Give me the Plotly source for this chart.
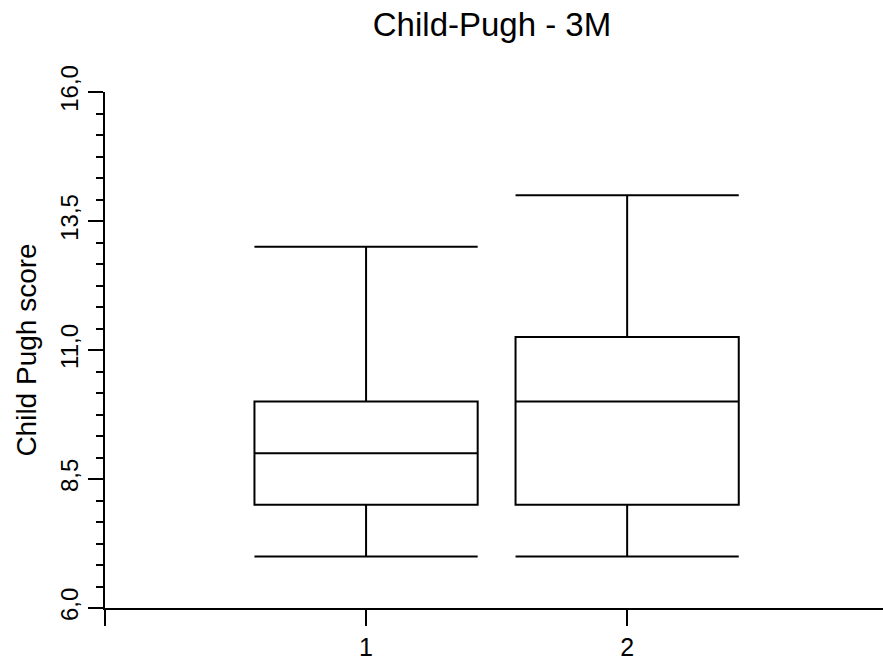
import plotly.graph_objects as go

# Five-number summaries of the Child-Pugh score per group at 3 months
groups = [1, 2]
lower_whisker = [7.0, 7.0]
q1_values = [8.0, 8.0]
medians = [9.0, 10.0]
q3_values = [10.0, 11.25]
upper_whisker = [13.0, 14.0]

y_ticks = [6.0, 8.5, 11.0, 13.5, 16.0]
x_tickvals = [0, 1, 2]
x_ticktext = ["", "1", "2"]

font_family = "Liberation Sans, Arial, sans-serif"

fig = go.Figure()
fig.add_trace(go.Box(
    x=groups,
    q1=q1_values,
    median=medians,
    q3=q3_values,
    lowerfence=lower_whisker,
    upperfence=upper_whisker,
    width=0.855,
    whiskerwidth=1,
    boxpoints=False,
    fillcolor="white",
    line=dict(color="black", width=2),
    showlegend=False,
    hoverinfo="skip",
))

fig.update_layout(
    width=883,
    height=662,
    margin=dict(l=105, r=0, t=92, b=54),
    paper_bgcolor="white",
    plot_bgcolor="white",
    separators=",.",
    font=dict(family=font_family, color="black"),
    title=dict(
        text="Child-Pugh - 3M",
        x=492 / 883,
        xref="container",
        xanchor="center",
        y=1 - 24 / 662,
        yref="container",
        yanchor="middle",
        font=dict(size=33, family=font_family, color="black"),
    ),
    xaxis=dict(
        range=[0, 2.98],
        tickmode="array",
        tickvals=x_tickvals,
        ticktext=x_ticktext,
        showline=True,
        linecolor="black",
        linewidth=2,
        ticks="outside",
        ticklen=16,
        tickwidth=2,
        tickcolor="black",
        showgrid=False,
        zeroline=False,
        tickfont=dict(size=25, family=font_family),
    ),
    yaxis=dict(
        range=[6, 16],
        tickmode="array",
        tickvals=y_ticks,
        tickformat=".1f",
        tickangle=-90,
        showline=True,
        linecolor="black",
        linewidth=2,
        ticks="outside",
        ticklen=15,
        tickwidth=2,
        tickcolor="black",
        minor=dict(dtick=2.5 / 6, tick0=6, ticks="outside", ticklen=7,
                   tickwidth=1.5, tickcolor="black", showgrid=False),
        showgrid=False,
        zeroline=False,
        tickfont=dict(size=24, family=font_family),
        title=dict(text="Child Pugh score", standoff=12,
                   font=dict(size=28, family=font_family)),
    ),
)

fig.write_html("out.html")
